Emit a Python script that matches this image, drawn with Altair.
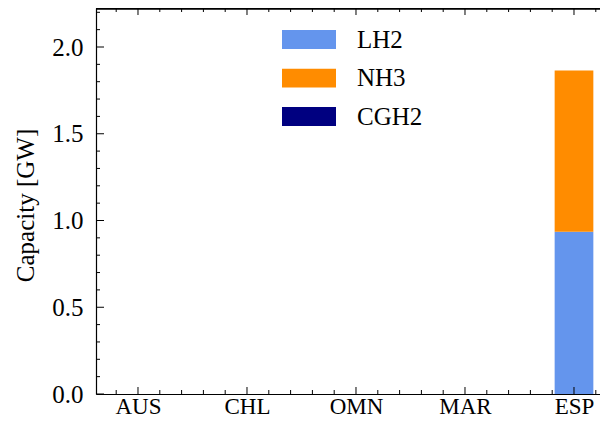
import altair as alt
import pandas as pd

# ---- data ----
COUNTRIES = ["AUS", "CHL", "OMN", "MAR", "ESP"]
FUELS = ["LH2", "NH3", "CGH2"]
COLORS = ["#6495ED", "#FF8C00", "#000080"]
LH2 = [0.0, 0.0, 0.0, 0.0, 0.935]
NH3 = [0.0, 0.0, 0.0, 0.0, 0.93]
CGH2 = [0.0, 0.0, 0.0, 0.0, 0.0]
Y_TICKS = [0.0, 0.5, 1.0, 1.5, 2.0]

FONT = "Liberation Serif, DejaVu Serif, serif"
FS = 25
XFS = 23
W, H = 504, 386
BAR_W = 0.355
X_DOM = [-0.3853, -0.3853 + W / 109.0]
Y_DOM = [0.0, H / 173.5]

rows = []
for fi, (fuel, vals) in enumerate(zip(FUELS, [LH2, NH3, CGH2])):
    for ci, (c, v) in enumerate(zip(COUNTRIES, vals)):
        rows.append({"country": c, "idx": ci, "fuel": fuel, "value": v, "order": fi})
df = pd.DataFrame(rows)

# tick positions (axis decoration)
x_major = pd.DataFrame({"x": list(range(len(COUNTRIES)))})
x_minor = pd.DataFrame({"x": [round(-0.2 + 0.2 * k, 1) for k in range(23)
                              if abs(round(-0.2 + 0.2 * k, 1) - round(-0.2 + 0.2 * k)) > 1e-6]})
y_major = pd.DataFrame({"y": Y_TICKS})
y_minor = pd.DataFrame({"y": [round(0.1 * k, 1) for k in range(1, 23) if k % 5 != 0]})

xs = alt.Scale(domain=X_DOM, nice=False, zero=False)
ys = alt.Scale(domain=Y_DOM, nice=False, zero=False)

label_expr = "[" + ",".join(f"'{c}'" for c in COUNTRIES) + "][datum.value]"

AX = alt.Axis(
    values=list(range(len(COUNTRIES))), labelExpr=label_expr, title=None,
    grid=False, ticks=False, domain=True, domainColor="black",
    domainWidth=1.2, labelFont=FONT, labelFontSize=XFS, labelColor="black",
    labelPadding=1, labelFlush=False, labelOverlap=False, labelBaseline="top")
AY = alt.Axis(
    values=Y_TICKS, format=".1f", title="Capacity [GW]",
    grid=False, ticks=False, domain=True, domainColor="black",
    domainWidth=1.2, labelFont=FONT, labelFontSize=FS, labelColor="black",
    labelPadding=13, labelFlush=False, labelOverlap=False,
    titleFont=FONT, titleFontSize=FS, titleFontWeight="normal", titleColor="black",
    titleAngle=270, titleAlign="center", titleBaseline="alphabetic",
    titleX=-63, titleY=197)

bars = alt.Chart(df).transform_stack(
    stack="value", groupby=["idx"], as_=["y0", "y1"], sort=[alt.SortField("order")]
).transform_calculate(
    xl=f"datum.idx - {BAR_W/2}", xr=f"datum.idx + {BAR_W/2}"
).mark_rect().encode(
    x=alt.X("xl:Q", scale=xs, axis=AX),
    x2="xr:Q",
    y=alt.Y("y0:Q", scale=ys, axis=AY),
    y2="y1:Q",
    color=alt.Color("fuel:N", scale=alt.Scale(domain=FUELS, range=COLORS),
                    sort=FUELS,
                    legend=alt.Legend(
                        title=None, orient="none", legendX=186, legendY=22,
                        symbolType="M-1,-0.352H1V0.352H-1Z", symbolSize=2916,
                        symbolStrokeWidth=0, symbolOpacity=1, clipHeight=19,
                        labelFont=FONT, labelFontSize=FS, labelColor="black",
                        labelOffset=21, rowPadding=12.5, padding=0, offset=0)),
)

def xticks(data, y0, y1):
    return alt.Chart(data).mark_rule(color="black", strokeWidth=1).encode(
        x=alt.X("x:Q", scale=xs, axis=AX), y=alt.value(y0), y2=alt.value(y1))

def yticks(data, length):
    return alt.Chart(data).mark_rule(color="black", strokeWidth=1).encode(
        y=alt.Y("y:Q", scale=ys, axis=AY), x=alt.value(0), x2=alt.value(length))

top_spine = alt.Chart(x_major).mark_rule(color="black", strokeWidth=1.2).encode(
    x=alt.value(0), x2=alt.value(W), y=alt.value(0.6))

chart = alt.layer(
    bars,
    xticks(x_major, H, H - 7), xticks(x_minor, H, H - 4),
    xticks(x_major, 0, 7), xticks(x_minor, 0, 4),
    yticks(y_major, 8), yticks(y_minor, 4),
    top_spine,
).properties(
    width=W, height=H,
    padding={"left": 88, "top": 0, "right": 0, "bottom": 24},
    autosize=alt.AutoSizeParams(type="none"),
    background="white",
).configure_view(stroke=None)

chart.save("out.html", embed_options={"renderer": "svg", "actions": False})
